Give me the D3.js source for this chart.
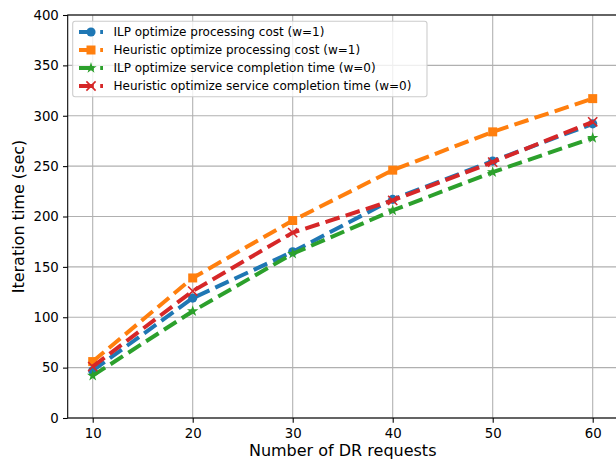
<!DOCTYPE html>
<html>
<head>
<meta charset="utf-8">
<script src="https://cdn.jsdelivr.net/npm/d3@7"></script>
<style>
  body { margin: 0; background: #fff; }
  svg { display: block; font-family: "DejaVu Sans", sans-serif; }
</style>
</head>
<body>
<div id="chart"></div>
<script>
(function(){
  'use strict';

  // Data.
  var requests = [10, 20, 30, 40, 50, 60];
  var ilpCost  = [47, 119, 165, 217, 255, 292];
  var heurCost = [56, 139, 196, 246, 284, 317];
  var ilpTime  = [42, 106, 163, 206, 244, 278];
  var heurTime = [51, 126, 184, 216, 254, 294];
  var xTicks = [10, 20, 30, 40, 50, 60];
  var yTicks = [0, 50, 100, 150, 200, 250, 300, 350, 400];
  var seriesNames = [
    "ILP optimize processing cost (w=1)",
    "Heuristic optimize processing cost (w=1)",
    "ILP optimize service completion time (w=0)",
    "Heuristic optimize service completion time (w=0)"
  ];

  var series = [
    { name: seriesNames[0], values: ilpCost,  color: "#1f77b4", marker: "circle" },
    { name: seriesNames[1], values: heurCost, color: "#ff7f0e", marker: "square" },
    { name: seriesNames[2], values: ilpTime,  color: "#2ca02c", marker: "star" },
    { name: seriesNames[3], values: heurTime, color: "#d62728", marker: "x" }
  ];

  var W = 616, H = 462;
  var left = 67.7, right = 617.7, top = 15, bottom = 418;

  var x = d3.scaleLinear().domain([7.5, 62.5]).range([left, right]);
  var y = d3.scaleLinear().domain([0, 400]).range([bottom, top]);

  var svg = d3.select("#chart").append("svg")
    .attr("width", W)
    .attr("height", H);

  // Grid.
  var grid = svg.append("g");
  grid.selectAll("line.vx")
    .data(xTicks).enter().append("line")
      .attr("x1", function(d){ return x(d); })
      .attr("x2", function(d){ return x(d); })
      .attr("y1", top).attr("y2", bottom)
      .attr("stroke", "#b0b0b0").attr("stroke-width", 1.07);
  grid.selectAll("line.hy")
    .data(yTicks).enter().append("line")
      .attr("y1", function(d){ return y(d); })
      .attr("y2", function(d){ return y(d); })
      .attr("x1", left).attr("x2", right)
      .attr("stroke", "#b0b0b0").attr("stroke-width", 1.07);

  // Axes.
  var xAxis = d3.axisBottom(x).tickValues(xTicks).tickSize(4.7).tickPadding(5.5);
  var yAxis = d3.axisLeft(y).tickValues(yTicks).tickSize(4.7).tickPadding(4.2);

  var gx = svg.append("g").attr("transform", "translate(0," + bottom + ")").call(xAxis);
  var gy = svg.append("g").attr("transform", "translate(" + left + ",0)").call(yAxis);
  [gx, gy].forEach(function(g){
    g.select(".domain").remove();
    g.selectAll("line").attr("stroke", "#000").attr("stroke-width", 1.07);
    g.selectAll("text").attr("font-size", 13.3).attr("fill", "#000")
      .attr("font-family", "DejaVu Sans");
  });

  // Spines.
  svg.append("rect")
    .attr("x", left).attr("y", top)
    .attr("width", right - left).attr("height", bottom - top)
    .attr("fill", "none").attr("stroke", "#000").attr("stroke-width", 1.07);

  // Axis labels.
  svg.append("text")
    .attr("x", (left + right) / 2)
    .attr("y", 456)
    .attr("text-anchor", "middle")
    .attr("font-size", 16)
    .text("Number of DR requests");
  svg.append("text")
    .attr("transform", "translate(24," + ((top + bottom) / 2) + ") rotate(-90)")
    .attr("text-anchor", "middle")
    .attr("font-size", 16)
    .text("Iteration time (sec)");

  var drawMarker = function(g, type, color, cx, cy) {
    if (type === "x") {
      var s = 4.6;
      g.append("path")
        .attr("d", "M" + (cx - s) + "," + (cy - s) + "L" + (cx + s) + "," + (cy + s) +
                   "M" + (cx - s) + "," + (cy + s) + "L" + (cx + s) + "," + (cy - s))
        .attr("stroke", color).attr("stroke-width", 1.6).attr("fill", "none");
      return;
    }
    var sym = type === "circle" ? d3.symbolCircle :
              type === "square" ? d3.symbolSquare : d3.symbolStar;
    var size = type === "circle" ? 66 : type === "square" ? 81 : 40;
    g.append("path")
      .attr("d", d3.symbol().type(sym).size(size)())
      .attr("transform", "translate(" + cx + "," + cy + ")")
      .attr("fill", color);
  };

  var line = d3.line()
    .x(function(d){ return x(d[0]); })
    .y(function(d){ return y(d[1]); });

  var plot = svg.append("g");
  series.forEach(function(s){
    var pts = requests.map(function(r, i){ return [r, s.values[i]]; });
    var g = plot.append("g");
    g.append("path")
      .attr("d", line(pts))
      .attr("fill", "none")
      .attr("stroke", s.color)
      .attr("stroke-width", 4)
      .attr("stroke-dasharray", "14.8,6.4")
      .attr("stroke-linejoin", "round");
    pts.forEach(function(p){
      drawMarker(g, s.marker, s.color, x(p[0]), y(p[1]));
    });
  });

  // Legend.
  var lg = svg.append("g");
  lg.append("rect")
    .attr("x", 72.7).attr("y", 21.3)
    .attr("width", 354.3).attr("height", 75.4)
    .attr("rx", 2.5)
    .attr("fill", "#fff").attr("fill-opacity", 0.8)
    .attr("stroke", "#cccccc").attr("stroke-width", 1.07);
  series.forEach(function(s, i){
    var cy = 32 + i * 18;
    lg.append("line")
      .attr("x1", 79).attr("x2", 103)
      .attr("y1", cy).attr("y2", cy)
      .attr("stroke", s.color).attr("stroke-width", 4)
      .attr("stroke-dasharray", "14.8,6.4");
    drawMarker(lg, s.marker, s.color, 91, cy);
    lg.append("text")
      .attr("x", 113.5).attr("y", cy + 4.3)
      .attr("font-size", 12)
      .text(s.name);
  });
})();
</script>
</body>
</html>
